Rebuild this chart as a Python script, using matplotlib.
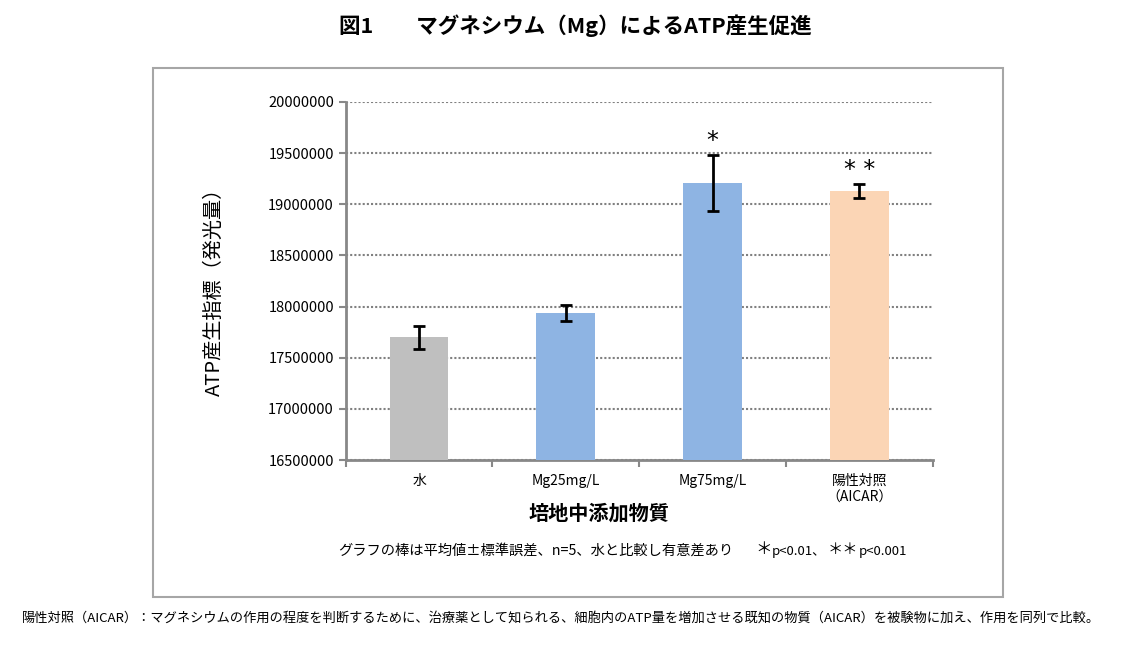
import matplotlib
matplotlib.use("Agg")
import matplotlib.pyplot as plt
from matplotlib.patches import Rectangle

plt.rcParams['font.family'] = ['Noto Sans CJK JP', 'DejaVu Sans']

# data
categories = ['水', 'Mg25mg/L', 'Mg75mg/L', '陽性対照\n（AICAR）']
means = [17700000, 17940000, 19210000, 19130000]
sems = [110000, 78000, 275000, 72000]
colors = ['#bfbfbf', '#8eb4e3', '#8eb4e3', '#fbd5b5']
marks = ['', '', '*', '* *']
yticks = list(range(16500000, 20000001, 500000))

fig = plt.figure(figsize=(11.26, 6.64), dpi=100)
ax = fig.add_axes([0.307, 0.3072, 0.5213, 0.5392])

x = list(range(len(categories)))
ax.bar(x, means, width=0.4, color=colors, zorder=3)
ax.errorbar(x, means, yerr=sems, fmt='none', ecolor='black',
            elinewidth=2, capsize=4.5, capthick=2, zorder=4)

for xi, m, s, t in zip(x, means, sems, marks):
    if t:
        ax.annotate(t, (xi, m + s), xytext=(0, 1), textcoords='offset points',
                    ha='center', va='bottom', fontsize=17, family='DejaVu Sans')

ax.set_xlim(-0.5, len(categories) - 0.5)
ax.set_ylim(yticks[0], yticks[-1])
ax.set_yticks(yticks)
ax.set_yticklabels([str(v) for v in yticks], fontsize=10.5)
ax.set_xticks(x)
ax.set_xticklabels(categories, fontsize=10, linespacing=1.25)
ax.set_xticks([i + 0.5 for i in range(-1, len(categories))], minor=True)
ax.tick_params(axis='x', which='major', length=0, pad=10)
ax.tick_params(axis='x', which='minor', length=5, color='#888888', width=1.5)
ax.tick_params(axis='y', length=5, color='#888888', width=1.5)

ax.grid(axis='y', linestyle=(0, (1, 1)), color='#808080', linewidth=1.5, zorder=0)
for side in ['top', 'right']:
    ax.spines[side].set_visible(False)
for side in ['left', 'bottom']:
    ax.spines[side].set_color('#888888')
    ax.spines[side].set_linewidth(2)

ax.set_ylabel('ATP産生指標（発光量）', fontsize=14.5)
ax.yaxis.set_label_coords(-0.206, 0.483)
ax.set_xlabel('培地中添加物質', fontsize=14.5, fontweight='bold')
ax.xaxis.set_label_coords(0.431, -0.12)

fig.text(0.511, 0.962, '図1　　マグネシウム（Mg）によるATP産生促進',
         ha='center', va='center', fontsize=15.5, fontweight='bold')

fig.add_artist(Rectangle((153 / 1126, 1 - 597 / 664), 850 / 1126, 529 / 664,
                         transform=fig.transFigure, fill=False,
                         edgecolor='#a6a6a6', linewidth=1.5))

fig.text(338 / 1126, 1 - 551 / 664,
         'グラフの棒は平均値±標準誤差、n=5、水と比較し有意差あり',
         ha='left', va='center', fontsize=10.3)
fig.text(755 / 1126, 1 - 549 / 664, '＊', ha='left', va='center', fontsize=12)
fig.text(772 / 1126, 1 - 552 / 664, 'p<0.01、', ha='left', va='center', fontsize=9.5)
fig.text(828 / 1126, 1 - 549 / 664, '＊＊', ha='left', va='center', fontsize=11)
fig.text(859 / 1126, 1 - 552 / 664, 'p<0.001', ha='left', va='center', fontsize=9.5)

fig.text(22 / 1126, 1 - 618 / 664,
         '陽性対照（AICAR）：マグネシウムの作用の程度を判断するために、治療薬として知られる、'
         '細胞内のATP量を増加させる既知の物質（AICAR）を被験物に加え、作用を同列で比較。',
         ha='left', va='center', fontsize=9.5)

fig.savefig('out.png', dpi=100)
